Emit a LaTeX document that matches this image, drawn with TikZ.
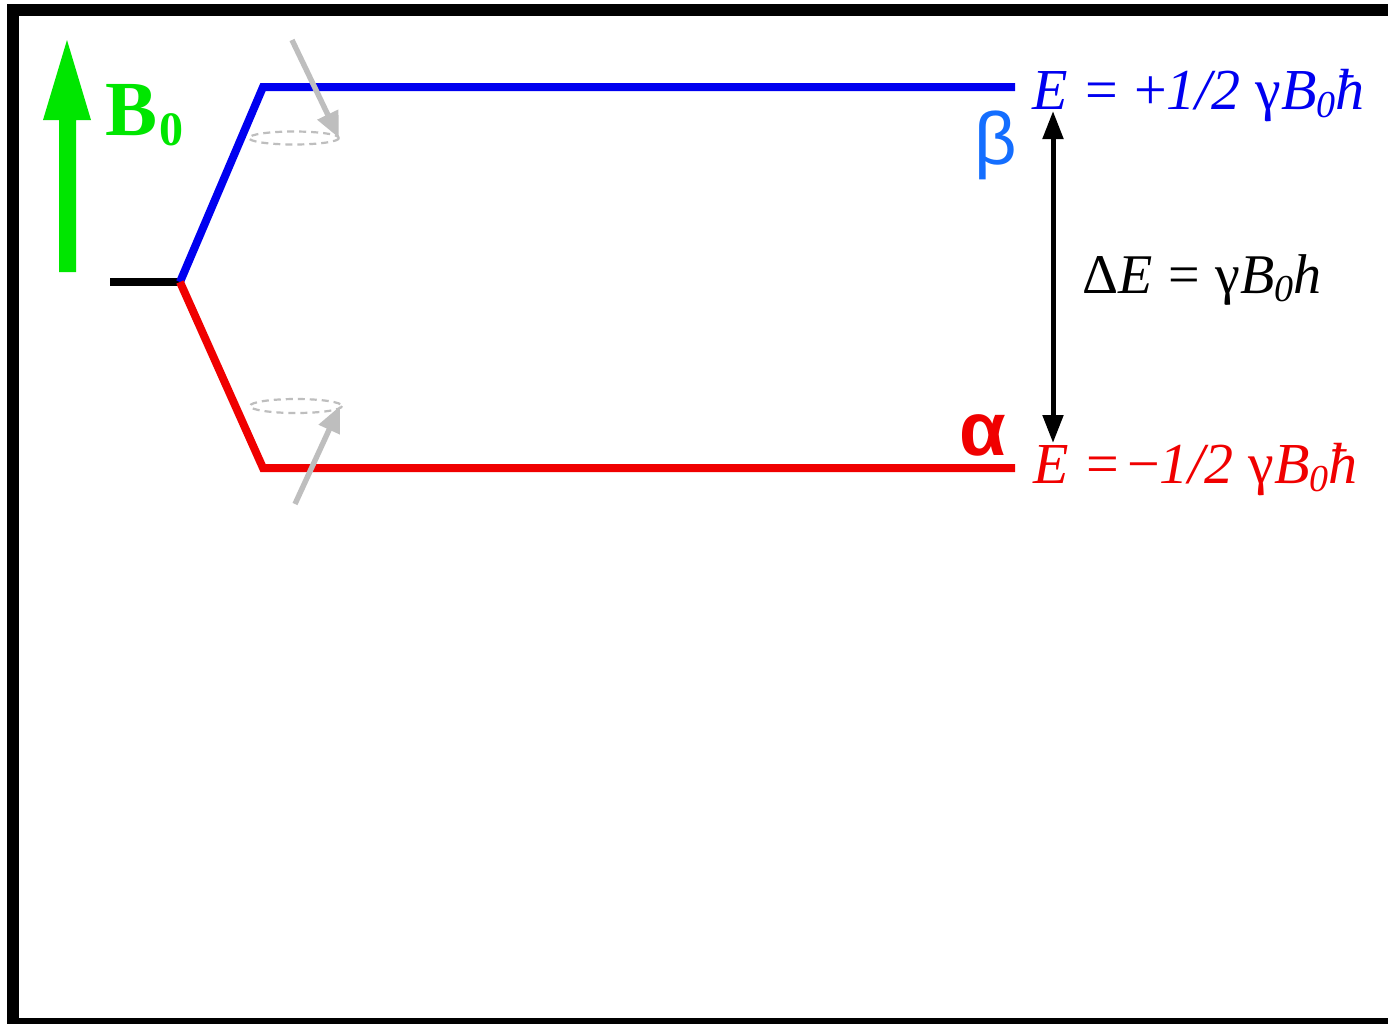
\documentclass[tikz,border=0pt]{standalone}
\usepackage{fontspec}
\setmainfont{Liberation Serif}
\newfontfamily\greeksans{Liberation Sans}
\usetikzlibrary{arrows.meta}
\definecolor{bgreen}{RGB}{0,230,0}
\definecolor{lblue}{RGB}{20,110,255}
\definecolor{sgray}{RGB}{190,190,190}
\definecolor{pblue}{RGB}{0,0,240}
\definecolor{pred}{RGB}{240,0,0}
\tikzset{
  level/.style={line width=4pt},
  spin/.style={sgray, line width=2.7pt, -{Triangle[length=13pt,width=11pt]}},
  cone/.style={sgray, line width=1.1pt, dash pattern=on 3.5pt off 2.5pt},
  gap/.style={black, line width=2.5pt, {Triangle[length=14pt,width=10pt]}-{Triangle[length=14pt,width=10pt]}},
  lbl/.style={anchor=base west, inner sep=0pt, outer sep=0pt},
}
\begin{document}
\begin{tikzpicture}[x=0.5pt,y=-0.5pt]
\useasboundingbox (0,0) rectangle (1388,1024);
\fill[white] (0,0) rectangle (1388,1024);
% frame
\fill[black] (7,4) rectangle (1388,16);
\fill[black] (7,4) rectangle (19,1024);
\fill[black] (7,1018) rectangle (1388,1024);
% B0 arrow
\fill[bgreen] (59,272) -- (59,120) -- (43,120) -- (67,40) -- (91,120) -- (76,120) -- (76,272) -- cycle;
\node[lbl, text=bgreen] (b0) at (105,135) {\fontsize{39pt}{39pt}\selectfont\bfseries B\hspace{1pt}\raisebox{-5pt}{\fontsize{24pt}{24pt}\selectfont 0}};
% levels
\coordinate (g) at (110,282);
\coordinate (s) at (180,282);
\coordinate (bt) at (263,87);
\coordinate (be) at (1015,87);
\coordinate (rt) at (263,468);
\coordinate (re) at (1015,468);
\draw[level, black] (g) -- (s);
\draw[level, pblue] (s) -- (bt) -- (be);
\draw[level, pred] (s) -- (rt) -- (re);
% spins
\coordinate (u0) at (292,40);
\coordinate (u1) at (339,138);
\coordinate (d0) at (295,504);
\coordinate (d1) at (340,406);
\draw[cone] (294,138) ellipse [x radius=45, y radius=6.5];
\draw[cone] (296,406) ellipse [x radius=46, y radius=7];
\draw[spin] (u0) -- (u1);
\draw[spin] (d0) -- (d1);
% labels
\node[lbl, text=pblue] (eb) at (1032,109) {\fontsize{29pt}{29pt}\selectfont\textit{E}\hspace{9pt}=\hspace{8pt}+\textit{1/2} γ\textit{B}\raisebox{-4pt}{\fontsize{19pt}{19pt}\selectfont\textit{0}}\textit{ħ}};
\node[lbl, text=pred] (ea) at (1033,483) {\fontsize{29pt}{29pt}\selectfont\textit{E}\hspace{9pt}=\hspace{4pt}−\textit{1/2} γ\textit{B}\raisebox{-4pt}{\fontsize{19pt}{19pt}\selectfont\textit{0}}\textit{ħ}};
\node[lbl, text=black] (de) at (1082,293) {\fontsize{28pt}{28pt}\selectfont Δ\textit{E}\hspace{8pt}=\hspace{8pt}γ\textit{B}\raisebox{-4pt}{\fontsize{19pt}{19pt}\selectfont\textit{0}}\textit{h}};
\node[lbl, text=lblue] (beta) at (974,164) {\fontsize{37pt}{37pt}\selectfont\greeksans β};
\node[lbl, text=pred] (alpha) at (959,455) {\fontsize{38pt}{38pt}\selectfont\greeksans\bfseries α};
% gap arrow
\coordinate (gt) at (1053,111);
\coordinate (gb) at (1053,443);
\draw[gap] (gt) -- (gb);
\end{tikzpicture}
\end{document}
